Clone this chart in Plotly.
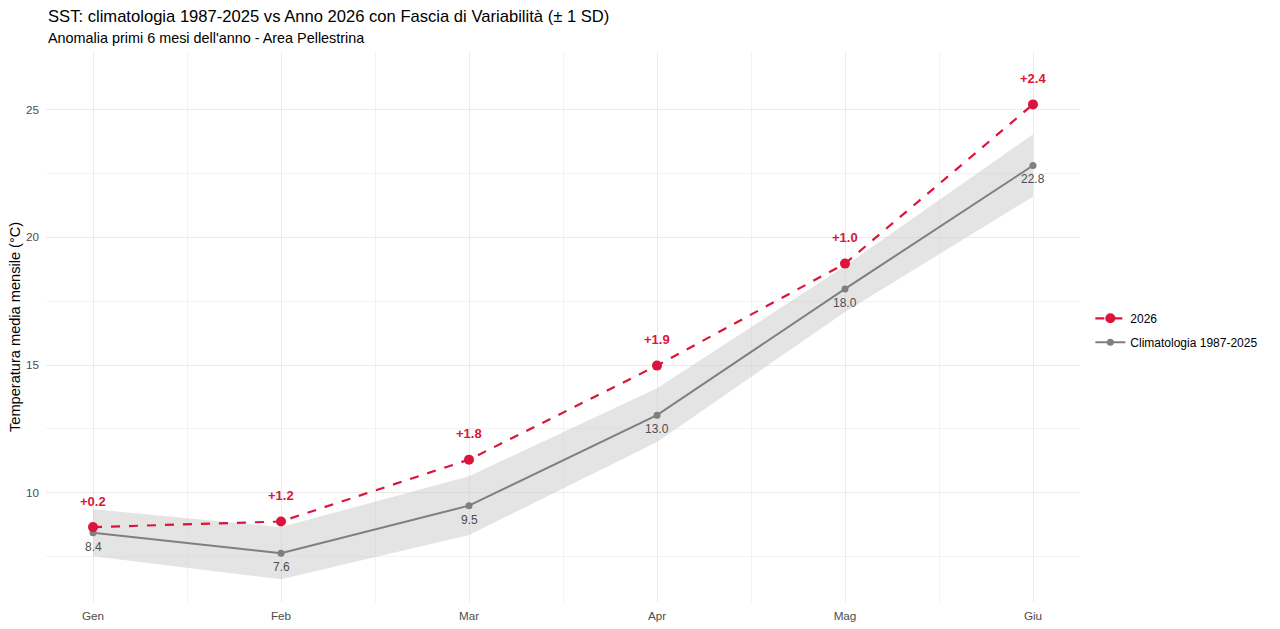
import plotly.graph_objects as go

months = ["Gen", "Feb", "Mar", "Apr", "Mag", "Giu"]
month_num = [1, 2, 3, 4, 5, 6]
clim = [8.44, 7.64, 9.50, 13.04, 17.98, 22.81]
clim_sd = [0.92, 1.02, 1.15, 1.05, 0.90, 1.22]
y2026 = [8.66, 8.88, 11.30, 14.98, 18.97, 25.20]

FONT = "Liberation Sans, Arial, sans-serif"
RED = "#DC143C"
GREY = "#7F7F7F"

upper = [c + s for c, s in zip(clim, clim_sd)]
lower = [c - s for c, s in zip(clim, clim_sd)]
anom = [b - a for a, b in zip(clim, y2026)]

fig = go.Figure()

fig.add_trace(go.Scatter(x=month_num, y=lower, mode="lines", line=dict(width=0),
                         showlegend=False, hoverinfo="skip"))
fig.add_trace(go.Scatter(x=month_num, y=upper, mode="lines", line=dict(width=0),
                         fill="tonexty", fillcolor="rgba(205,205,205,0.55)",
                         showlegend=False, hoverinfo="skip"))
fig.add_trace(go.Scatter(x=month_num, y=clim, mode="lines+markers",
                         name="Climatologia 1987-2025", legendgroup="clim",
                         line=dict(color=GREY, width=2),
                         marker=dict(color=GREY, size=7), legendrank=2))
fig.add_trace(go.Scatter(x=month_num, y=y2026, mode="lines+markers",
                         name="2026", legendgroup="y2026",
                         line=dict(color=RED, width=2.2, dash="dash"),
                         marker=dict(color=RED, size=10), legendrank=1))

for m, v, a in zip(month_num, y2026, anom):
    fig.add_annotation(x=m, y=v, text=f"<b>{a:+.1f}</b>", showarrow=False,
                       yshift=26, font=dict(family=FONT, size=13, color=RED))
for m, v in zip(month_num, clim):
    fig.add_annotation(x=m, y=v, text=f"{v:.1f}", showarrow=False,
                       yshift=-14, font=dict(family=FONT, size=12, color="#4D4D4D"))

fig.add_annotation(xref="paper", yref="paper", x=0, y=1, xanchor="left", yanchor="middle",
                   text="SST: climatologia 1987-2025 vs Anno 2026 con Fascia di Variabilità (± 1 SD)",
                   showarrow=False, yshift=36, font=dict(family=FONT, size=16.6, color="black"))
fig.add_annotation(xref="paper", yref="paper", x=0, y=1, xanchor="left", yanchor="middle",
                   text="Anomalia primi 6 mesi dell'anno - Area Pellestrina",
                   showarrow=False, yshift=14, font=dict(family=FONT, size=14.4, color="black"))
fig.add_annotation(xref="paper", yref="paper", x=0, y=0.5, xanchor="center", yanchor="middle",
                   text="Temperatura media mensile (°C)", textangle=-90,
                   showarrow=False, xshift=-31, font=dict(family=FONT, size=14.6, color="black"))

fig.update_layout(
    width=1280, height=629,
    paper_bgcolor="white", plot_bgcolor="white",
    font=dict(family=FONT, size=12, color="black"),
    margin=dict(l=38, r=208, t=44, b=35, autoexpand=False),
    showlegend=True,
    legend=dict(x=1.01, xanchor="left", y=0.494, yanchor="middle", traceorder="grouped",
                font=dict(family=FONT, size=12, color="black"),
                bgcolor="rgba(0,0,0,0)", tracegroupgap=5),
    xaxis=dict(range=[0.75, 6.25], tickmode="array", tickvals=month_num, ticktext=months,
               showgrid=True, gridcolor="#EBEBEB", gridwidth=1, zeroline=False,
               showline=False, ticks="", automargin=False, ticklabelstandoff=5,
               tickfont=dict(family=FONT, size=11.7, color="#4D4D4D"),
               minor=dict(tickvals=[1.5, 2.5, 3.5, 4.5, 5.5], showgrid=True,
                          gridcolor="#F2F2F2", gridwidth=1)),
    yaxis=dict(range=[5.73, 27.25], tickvals=[10, 15, 20, 25],
               showgrid=True, gridcolor="#EBEBEB", gridwidth=1, zeroline=False,
               showline=False, ticks="", automargin=False, ticklabelstandoff=6,
               tickfont=dict(family=FONT, size=11.7, color="#4D4D4D"),
               minor=dict(tickvals=[7.5, 12.5, 17.5, 22.5], showgrid=True,
                          gridcolor="#F2F2F2", gridwidth=1)),
)

fig.write_html("out.html")
